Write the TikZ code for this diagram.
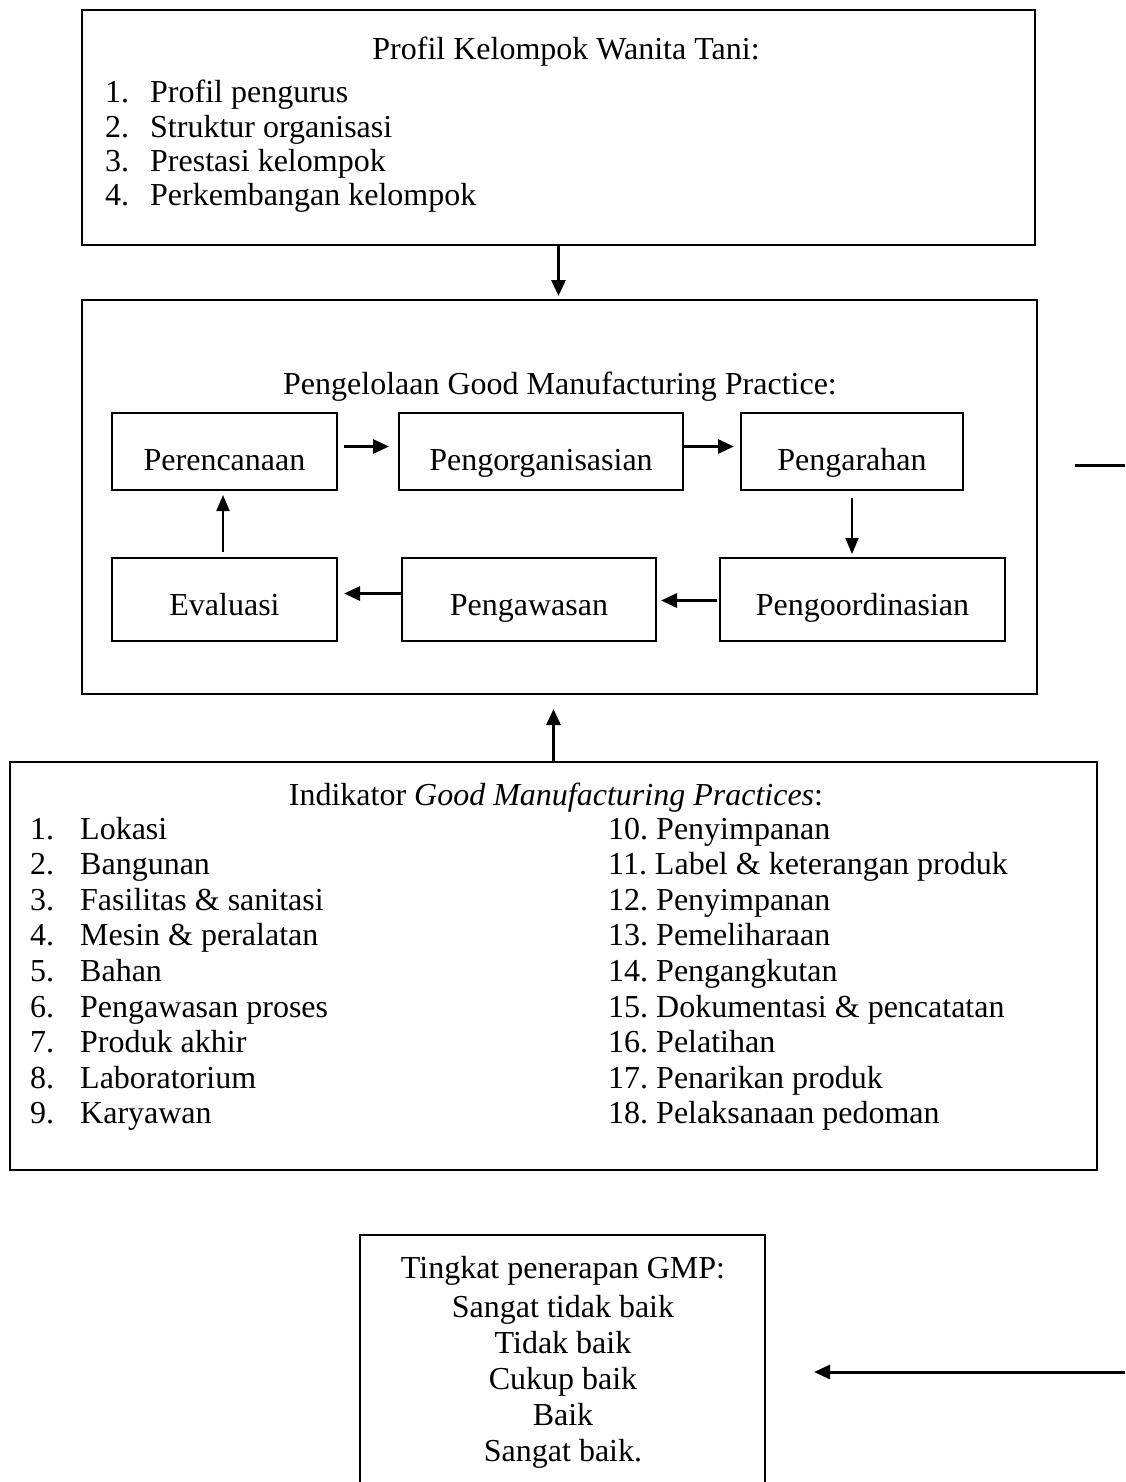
\documentclass[tikz,border=0pt]{standalone}
\usepackage{fontspec}
\setmainfont{Liberation Serif}
\usetikzlibrary{arrows.meta}
\newcommand\mytxt{\fontsize{32}{36}\selectfont}
\begin{document}
\begin{tikzpicture}[x=1pt,y=-1pt,
  box/.style={draw, line width=2pt, inner sep=0pt},
  lt/.style={anchor=base west, inner sep=0pt, font=\mytxt},
  ct/.style={anchor=base, inner sep=0pt, font=\mytxt},
  arr/.style={line width=3pt, -{Triangle[length=16pt,width=14pt]}},
  tarr/.style={line width=2.2pt, -{Triangle[length=16pt,width=13pt]}},
]
\useasboundingbox (0,0) rectangle (1125,1482);
\clip (0,0) rectangle (1125,1482);

% ---------- Box 1 ----------
\node[box, minimum width=953pt, minimum height=235pt] (b1) at (558.5,127.5) {};
\node[ct] (b1t) at (566,60) {Profil Kelompok Wanita Tani:};
\foreach \n/\t [count=\i from 0] in {1/Profil pengurus,2/Struktur organisasi,3/Prestasi kelompok,4/Perkembangan kelompok}{
  \node[lt] (b1n\n) at (105,103+34.3*\i) {\n.};
  \node[lt] (b1i\n) at (150,103+34.3*\i) {\t};
}

% ---------- Box 2 ----------
\node[box, minimum width=955pt, minimum height=394pt] (b2) at (559.5,497) {};
\node[ct] (b2t) at (560,394) {Pengelolaan Good Manufacturing Practice:};

\node[box, minimum width=225pt, minimum height=77pt] (per) at (224.5,451.5) {};
\node[box, minimum width=284pt, minimum height=77pt] (org) at (541,451.5) {};
\node[box, minimum width=222pt, minimum height=77pt] (arah) at (852,451.5) {};
\node[box, minimum width=225pt, minimum height=83pt] (eva) at (224.5,599.5) {};
\node[box, minimum width=254pt, minimum height=83pt] (awas) at (529,599.5) {};
\node[box, minimum width=285pt, minimum height=83pt] (koor) at (862.5,599.5) {};

\node[ct] (pert) at (224.5,470) {Perencanaan};
\node[ct] (orgt) at (541,470) {Pengorganisasian};
\node[ct] (araht) at (852,470) {Pengarahan};
\node[ct] (evat) at (224.5,615) {Evaluasi};
\node[ct] (awast) at (529,615) {Pengawasan};
\node[ct] (koort) at (862.5,615) {Pengoordinasian};

\draw[arr] ([xshift=6pt,yshift=5pt]per.east) -- ([xshift=-9pt,yshift=5pt]org.west);
\draw[arr] ([xshift=0pt,yshift=5pt]org.east) -- ([xshift=-6pt,yshift=5pt]arah.west);
\draw[tarr] ([yshift=-7pt]arah.south) -- ([yshift=3pt]arah.south |- koor.north);
\draw[arr] ([xshift=-2pt,yshift=-1pt]koor.west) -- ([xshift=4pt,yshift=-1pt]awas.east);
\draw[arr] ([yshift=6pt]awas.west) -- ([xshift=6pt,yshift=6pt]eva.east);
\draw[tarr] ([xshift=-1.5pt,yshift=5pt]eva.north) -- ([xshift=-1.5pt,yshift=-4pt]per.south);

% ---------- Box 3 ----------
\node[box, minimum width=1087pt, minimum height=408pt] (b3) at (553.5,966) {};
\node[ct] (b3t) at (556,805) {Indikator \textit{Good Manufacturing Practices}:};
\foreach \n/\t [count=\i from 0] in {1/Lokasi,2/Bangunan,3/Fasilitas \& sanitasi,4/Mesin \& peralatan,5/Bahan,6/Pengawasan proses,7/Produk akhir,8/Laboratorium,9/Karyawan}{
  \node[lt] (b3n\n) at (30,839+35.6*\i) {\n.};
  \node[lt] (b3i\n) at (80,839+35.6*\i) {\t};
}
\foreach \n/\t [count=\i from 0] in {10/Penyimpanan,11/Label \& keterangan produk,12/Penyimpanan,13/Pemeliharaan,14/Pengangkutan,15/Dokumentasi \& pencatatan,16/Pelatihan,17/Penarikan produk,18/Pelaksanaan pedoman}{
  \node[lt] (b3r\n) at (608,839+35.6*\i) {\n.\ \t};
}

% ---------- Box 4 ----------
\node[box, minimum width=405pt, minimum height=270pt] (b4) at (562.5,1370) {};
\node[ct] (b4l0) at (563,1278) {Tingkat penerapan GMP:};
\node[ct] (b4l1) at (563,1317) {Sangat tidak baik};
\node[ct] (b4l2) at (563,1353) {Tidak baik};
\node[ct] (b4l3) at (563,1389) {Cukup baik};
\node[ct] (b4l4) at (563,1425) {Baik};
\node[ct] (b4l5) at (563,1461) {Sangat baik.};

% ---------- Connectors ----------
\draw[arr] (b1.south) -- ([yshift=3pt]b1.south |- b2.north);
\draw[arr] (b3.north) -- ([yshift=-14pt]b3.north |- b2.south);

\coordinate (r1) at (1075,465);
\coordinate (r2) at (1125,465);
\draw[line width=3pt] (r1) -- (r2);

\coordinate (q1) at (1125,1372);
\draw[arr] (q1) -- ([xshift=48pt]b4.east |- q1);
\end{tikzpicture}
\end{document}
